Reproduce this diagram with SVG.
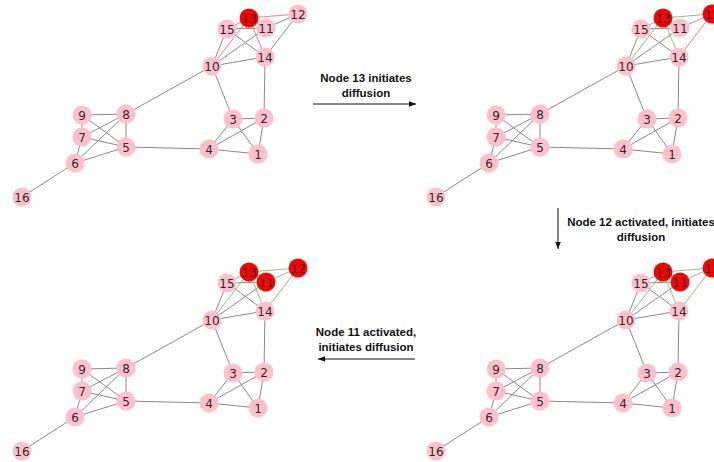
<svg xmlns="http://www.w3.org/2000/svg" xmlns:xlink="http://www.w3.org/1999/xlink" width="714" height="462" viewBox="0 0 714 462">
<defs>
<style>
.e{stroke:#8a8a8a;stroke-width:1;fill:none}
.r{stroke:#f08080;stroke-width:1;fill:none}
.g{stroke:#80c880;stroke-width:1;fill:none}
.n circle{fill:#ffc0cb}
.n.a circle{fill:#ff0000}
.n text{font-family:"DejaVu Sans",sans-serif;font-size:12px;fill:#2a2a2a;text-anchor:middle;dominant-baseline:central}
.lbl{font-family:"Liberation Sans",Arial,sans-serif;font-size:11.5px;font-weight:bold;fill:#111;text-anchor:middle}
.arr{stroke:#111;stroke-width:1;fill:none}
</style>
<marker id="ah" viewBox="0 0 10 10" refX="10" refY="5" markerWidth="7" markerHeight="7" orient="auto" markerUnits="userSpaceOnUse">
<path d="M0,1 L10,5 L0,9 z" fill="#111"/>
</marker>
</defs>
<rect width="714" height="462" fill="#ffffff"/>

<!-- Panel 1 -->
<g id="panel1">
<g id="p1-edges">
<line class="e" x1="212" y1="66" x2="227" y2="29"/>
<line class="e" x1="212" y1="66" x2="266" y2="28"/>
<line class="e" x1="212" y1="66" x2="265" y2="57"/>
<line class="e" x1="212" y1="66" x2="126" y2="114"/>
<line class="e" x1="212" y1="66" x2="233" y2="119"/>
<line class="e" x1="227" y1="29" x2="266" y2="28"/>
<line class="e" x1="227" y1="29" x2="265" y2="57"/>
<line class="e" x1="266" y1="28" x2="298" y2="14"/>
<line class="e" x1="298" y1="14" x2="265" y2="57"/>
<line class="e" x1="265" y1="57" x2="264" y2="118"/>
<line class="e" x1="233" y1="119" x2="264" y2="118"/>
<line class="e" x1="233" y1="119" x2="209" y2="149"/>
<line class="e" x1="233" y1="119" x2="258" y2="154"/>
<line class="e" x1="264" y1="118" x2="209" y2="149"/>
<line class="e" x1="264" y1="118" x2="258" y2="154"/>
<line class="e" x1="209" y1="149" x2="258" y2="154"/>
<line class="e" x1="209" y1="149" x2="126" y2="147"/>
<line class="e" x1="126" y1="114" x2="82" y2="115"/>
<line class="e" x1="126" y1="114" x2="82" y2="137"/>
<line class="e" x1="126" y1="114" x2="75" y2="163"/>
<line class="e" x1="126" y1="114" x2="126" y2="147"/>
<line class="e" x1="82" y1="115" x2="82" y2="137"/>
<line class="e" x1="82" y1="115" x2="126" y2="147"/>
<line class="e" x1="82" y1="137" x2="126" y2="147"/>
<line class="e" x1="82" y1="137" x2="75" y2="163"/>
<line class="e" x1="75" y1="163" x2="126" y2="147"/>
<line class="e" x1="75" y1="163" x2="22" y2="197"/>
<line class="r" x1="249" y1="18" x2="298" y2="14"/>
<line class="r" x1="249" y1="18" x2="227" y2="29"/>
<line class="r" x1="249" y1="18" x2="212" y2="66"/>
<line class="r" x1="249" y1="18" x2="265" y2="57"/>
<line class="r" x1="249" y1="18" x2="266" y2="28"/>
</g>
<g id="p1-n1" class="n"><circle cx="258" cy="154" r="9.5"/><text x="258" y="155">1</text></g>
<g id="p1-n2" class="n"><circle cx="264" cy="118" r="9.5"/><text x="264" y="119">2</text></g>
<g id="p1-n3" class="n"><circle cx="233" cy="119" r="9.5"/><text x="233" y="120">3</text></g>
<g id="p1-n4" class="n"><circle cx="209" cy="149" r="9.5"/><text x="209" y="150">4</text></g>
<g id="p1-n5" class="n"><circle cx="126" cy="147" r="9.5"/><text x="126" y="148">5</text></g>
<g id="p1-n6" class="n"><circle cx="75" cy="163" r="9.5"/><text x="75" y="164">6</text></g>
<g id="p1-n7" class="n"><circle cx="82" cy="137" r="9.5"/><text x="82" y="138">7</text></g>
<g id="p1-n8" class="n"><circle cx="126" cy="114" r="9.5"/><text x="126" y="115">8</text></g>
<g id="p1-n9" class="n"><circle cx="82" cy="115" r="9.5"/><text x="82" y="116">9</text></g>
<g id="p1-n10" class="n"><circle cx="212" cy="66" r="9.5"/><text x="212" y="67">10</text></g>
<g id="p1-n15" class="n"><circle cx="227" cy="29" r="9.5"/><text x="227" y="30">15</text></g>
<g id="p1-n11" class="n"><circle cx="266" cy="28" r="9.5"/><text x="266" y="29">11</text></g>
<g id="p1-n14" class="n"><circle cx="265" cy="57" r="9.5"/><text x="265" y="58">14</text></g>
<g id="p1-n12" class="n"><circle cx="298" cy="14" r="9.5"/><text x="298" y="15">12</text></g>
<g id="p1-n13" class="n a"><circle cx="249" cy="18" r="9.5"/><text x="249" y="19">13</text></g>
<g id="p1-n16" class="n"><circle cx="22" cy="197" r="9.5"/><text x="22" y="198">16</text></g>
</g>

<!-- Panel 2 -->
<g id="panel2" transform="translate(414,0)">
<g id="p2-edges">
<line class="e" x1="212" y1="66" x2="227" y2="29"/>
<line class="e" x1="212" y1="66" x2="266" y2="28"/>
<line class="e" x1="212" y1="66" x2="265" y2="57"/>
<line class="e" x1="212" y1="66" x2="126" y2="114"/>
<line class="e" x1="212" y1="66" x2="233" y2="119"/>
<line class="e" x1="227" y1="29" x2="266" y2="28"/>
<line class="e" x1="227" y1="29" x2="265" y2="57"/>
<line class="e" x1="265" y1="57" x2="264" y2="118"/>
<line class="e" x1="233" y1="119" x2="264" y2="118"/>
<line class="e" x1="233" y1="119" x2="209" y2="149"/>
<line class="e" x1="233" y1="119" x2="258" y2="154"/>
<line class="e" x1="264" y1="118" x2="209" y2="149"/>
<line class="e" x1="264" y1="118" x2="258" y2="154"/>
<line class="e" x1="209" y1="149" x2="258" y2="154"/>
<line class="e" x1="209" y1="149" x2="126" y2="147"/>
<line class="e" x1="126" y1="114" x2="82" y2="115"/>
<line class="e" x1="126" y1="114" x2="82" y2="137"/>
<line class="e" x1="126" y1="114" x2="75" y2="163"/>
<line class="e" x1="126" y1="114" x2="126" y2="147"/>
<line class="e" x1="82" y1="115" x2="82" y2="137"/>
<line class="e" x1="82" y1="115" x2="126" y2="147"/>
<line class="e" x1="82" y1="137" x2="126" y2="147"/>
<line class="e" x1="82" y1="137" x2="75" y2="163"/>
<line class="e" x1="75" y1="163" x2="126" y2="147"/>
<line class="e" x1="75" y1="163" x2="22" y2="197"/>
<line class="g" x1="249" y1="18" x2="298" y2="14"/>
<line class="g" x1="249" y1="18" x2="227" y2="29"/>
<line class="g" x1="249" y1="18" x2="212" y2="66"/>
<line class="g" x1="249" y1="18" x2="265" y2="57"/>
<line class="g" x1="249" y1="18" x2="266" y2="28"/>
<line class="r" x1="298" y1="14" x2="266" y2="28"/>
<line class="r" x1="298" y1="14" x2="265" y2="57"/>
</g>
<g id="p2-n1" class="n"><circle cx="258" cy="154" r="9.5"/><text x="258" y="155">1</text></g>
<g id="p2-n2" class="n"><circle cx="264" cy="118" r="9.5"/><text x="264" y="119">2</text></g>
<g id="p2-n3" class="n"><circle cx="233" cy="119" r="9.5"/><text x="233" y="120">3</text></g>
<g id="p2-n4" class="n"><circle cx="209" cy="149" r="9.5"/><text x="209" y="150">4</text></g>
<g id="p2-n5" class="n"><circle cx="126" cy="147" r="9.5"/><text x="126" y="148">5</text></g>
<g id="p2-n6" class="n"><circle cx="75" cy="163" r="9.5"/><text x="75" y="164">6</text></g>
<g id="p2-n7" class="n"><circle cx="82" cy="137" r="9.5"/><text x="82" y="138">7</text></g>
<g id="p2-n8" class="n"><circle cx="126" cy="114" r="9.5"/><text x="126" y="115">8</text></g>
<g id="p2-n9" class="n"><circle cx="82" cy="115" r="9.5"/><text x="82" y="116">9</text></g>
<g id="p2-n10" class="n"><circle cx="212" cy="66" r="9.5"/><text x="212" y="67">10</text></g>
<g id="p2-n15" class="n"><circle cx="227" cy="29" r="9.5"/><text x="227" y="30">15</text></g>
<g id="p2-n11" class="n"><circle cx="266" cy="28" r="9.5"/><text x="266" y="29">11</text></g>
<g id="p2-n14" class="n"><circle cx="265" cy="57" r="9.5"/><text x="265" y="58">14</text></g>
<g id="p2-n12" class="n a"><circle cx="298" cy="14" r="9.5"/><text x="298" y="15">12</text></g>
<g id="p2-n13" class="n a"><circle cx="249" cy="18" r="9.5"/><text x="249" y="19">13</text></g>
<g id="p2-n16" class="n"><circle cx="22" cy="197" r="9.5"/><text x="22" y="198">16</text></g>
</g>

<!-- Panel 3 -->
<g id="panel3" transform="translate(414,254)">
<g id="p3-edges">
<line class="e" x1="212" y1="66" x2="227" y2="29"/>
<line class="e" x1="212" y1="66" x2="266" y2="28"/>
<line class="e" x1="212" y1="66" x2="265" y2="57"/>
<line class="e" x1="212" y1="66" x2="126" y2="114"/>
<line class="e" x1="212" y1="66" x2="233" y2="119"/>
<line class="e" x1="227" y1="29" x2="266" y2="28"/>
<line class="e" x1="227" y1="29" x2="265" y2="57"/>
<line class="e" x1="265" y1="57" x2="264" y2="118"/>
<line class="e" x1="233" y1="119" x2="264" y2="118"/>
<line class="e" x1="233" y1="119" x2="209" y2="149"/>
<line class="e" x1="233" y1="119" x2="258" y2="154"/>
<line class="e" x1="264" y1="118" x2="209" y2="149"/>
<line class="e" x1="264" y1="118" x2="258" y2="154"/>
<line class="e" x1="209" y1="149" x2="258" y2="154"/>
<line class="e" x1="209" y1="149" x2="126" y2="147"/>
<line class="e" x1="126" y1="114" x2="82" y2="115"/>
<line class="e" x1="126" y1="114" x2="82" y2="137"/>
<line class="e" x1="126" y1="114" x2="75" y2="163"/>
<line class="e" x1="126" y1="114" x2="126" y2="147"/>
<line class="e" x1="82" y1="115" x2="82" y2="137"/>
<line class="e" x1="82" y1="115" x2="126" y2="147"/>
<line class="e" x1="82" y1="137" x2="126" y2="147"/>
<line class="e" x1="82" y1="137" x2="75" y2="163"/>
<line class="e" x1="75" y1="163" x2="126" y2="147"/>
<line class="e" x1="75" y1="163" x2="22" y2="197"/>
<line class="g" x1="249" y1="18" x2="298" y2="14"/>
<line class="g" x1="249" y1="18" x2="227" y2="29"/>
<line class="g" x1="249" y1="18" x2="212" y2="66"/>
<line class="g" x1="249" y1="18" x2="265" y2="57"/>
<line class="g" x1="249" y1="18" x2="266" y2="28"/>
<line class="g" x1="298" y1="14" x2="266" y2="28"/>
<line class="g" x1="298" y1="14" x2="265" y2="57"/>
</g>
<g id="p3-n1" class="n"><circle cx="258" cy="154" r="9.5"/><text x="258" y="155">1</text></g>
<g id="p3-n2" class="n"><circle cx="264" cy="118" r="9.5"/><text x="264" y="119">2</text></g>
<g id="p3-n3" class="n"><circle cx="233" cy="119" r="9.5"/><text x="233" y="120">3</text></g>
<g id="p3-n4" class="n"><circle cx="209" cy="149" r="9.5"/><text x="209" y="150">4</text></g>
<g id="p3-n5" class="n"><circle cx="126" cy="147" r="9.5"/><text x="126" y="148">5</text></g>
<g id="p3-n6" class="n"><circle cx="75" cy="163" r="9.5"/><text x="75" y="164">6</text></g>
<g id="p3-n7" class="n"><circle cx="82" cy="137" r="9.5"/><text x="82" y="138">7</text></g>
<g id="p3-n8" class="n"><circle cx="126" cy="114" r="9.5"/><text x="126" y="115">8</text></g>
<g id="p3-n9" class="n"><circle cx="82" cy="115" r="9.5"/><text x="82" y="116">9</text></g>
<g id="p3-n10" class="n"><circle cx="212" cy="66" r="9.5"/><text x="212" y="67">10</text></g>
<g id="p3-n15" class="n"><circle cx="227" cy="29" r="9.5"/><text x="227" y="30">15</text></g>
<g id="p3-n14" class="n"><circle cx="265" cy="57" r="9.5"/><text x="265" y="58">14</text></g>
<g id="p3-n12" class="n a"><circle cx="298" cy="14" r="9.5"/><text x="298" y="15">12</text></g>
<g id="p3-n13" class="n a"><circle cx="249" cy="18" r="9.5"/><text x="249" y="19">13</text></g>
<g id="p3-n11" class="n a"><circle cx="266" cy="28" r="9.5"/><text x="266" y="29">11</text></g>
<g id="p3-n16" class="n"><circle cx="22" cy="197" r="9.5"/><text x="22" y="198">16</text></g>
</g>

<!-- Panel 4 -->
<g id="panel4" transform="translate(0,254)">
<g id="p4-edges">
<line class="e" x1="212" y1="66" x2="227" y2="29"/>
<line class="e" x1="212" y1="66" x2="266" y2="28"/>
<line class="e" x1="212" y1="66" x2="265" y2="57"/>
<line class="e" x1="212" y1="66" x2="126" y2="114"/>
<line class="e" x1="212" y1="66" x2="233" y2="119"/>
<line class="e" x1="227" y1="29" x2="266" y2="28"/>
<line class="e" x1="227" y1="29" x2="265" y2="57"/>
<line class="e" x1="265" y1="57" x2="264" y2="118"/>
<line class="e" x1="233" y1="119" x2="264" y2="118"/>
<line class="e" x1="233" y1="119" x2="209" y2="149"/>
<line class="e" x1="233" y1="119" x2="258" y2="154"/>
<line class="e" x1="264" y1="118" x2="209" y2="149"/>
<line class="e" x1="264" y1="118" x2="258" y2="154"/>
<line class="e" x1="209" y1="149" x2="258" y2="154"/>
<line class="e" x1="209" y1="149" x2="126" y2="147"/>
<line class="e" x1="126" y1="114" x2="82" y2="115"/>
<line class="e" x1="126" y1="114" x2="82" y2="137"/>
<line class="e" x1="126" y1="114" x2="75" y2="163"/>
<line class="e" x1="126" y1="114" x2="126" y2="147"/>
<line class="e" x1="82" y1="115" x2="82" y2="137"/>
<line class="e" x1="82" y1="115" x2="126" y2="147"/>
<line class="e" x1="82" y1="137" x2="126" y2="147"/>
<line class="e" x1="82" y1="137" x2="75" y2="163"/>
<line class="e" x1="75" y1="163" x2="126" y2="147"/>
<line class="e" x1="75" y1="163" x2="22" y2="197"/>
<line class="g" x1="249" y1="18" x2="298" y2="14"/>
<line class="g" x1="249" y1="18" x2="227" y2="29"/>
<line class="g" x1="249" y1="18" x2="212" y2="66"/>
<line class="g" x1="249" y1="18" x2="265" y2="57"/>
<line class="g" x1="249" y1="18" x2="266" y2="28"/>
<line class="g" x1="298" y1="14" x2="266" y2="28"/>
<line class="g" x1="298" y1="14" x2="265" y2="57"/>
</g>
<g id="p4-n1" class="n"><circle cx="258" cy="154" r="9.5"/><text x="258" y="155">1</text></g>
<g id="p4-n2" class="n"><circle cx="264" cy="118" r="9.5"/><text x="264" y="119">2</text></g>
<g id="p4-n3" class="n"><circle cx="233" cy="119" r="9.5"/><text x="233" y="120">3</text></g>
<g id="p4-n4" class="n"><circle cx="209" cy="149" r="9.5"/><text x="209" y="150">4</text></g>
<g id="p4-n5" class="n"><circle cx="126" cy="147" r="9.5"/><text x="126" y="148">5</text></g>
<g id="p4-n6" class="n"><circle cx="75" cy="163" r="9.5"/><text x="75" y="164">6</text></g>
<g id="p4-n7" class="n"><circle cx="82" cy="137" r="9.5"/><text x="82" y="138">7</text></g>
<g id="p4-n8" class="n"><circle cx="126" cy="114" r="9.5"/><text x="126" y="115">8</text></g>
<g id="p4-n9" class="n"><circle cx="82" cy="115" r="9.5"/><text x="82" y="116">9</text></g>
<g id="p4-n10" class="n"><circle cx="212" cy="66" r="9.5"/><text x="212" y="67">10</text></g>
<g id="p4-n15" class="n"><circle cx="227" cy="29" r="9.5"/><text x="227" y="30">15</text></g>
<g id="p4-n14" class="n"><circle cx="265" cy="57" r="9.5"/><text x="265" y="58">14</text></g>
<g id="p4-n12" class="n a"><circle cx="298" cy="14" r="9.5"/><text x="298" y="15">12</text></g>
<g id="p4-n13" class="n a"><circle cx="249" cy="18" r="9.5"/><text x="249" y="19">13</text></g>
<g id="p4-n11" class="n a"><circle cx="266" cy="28" r="9.5"/><text x="266" y="29">11</text></g>
<g id="p4-n16" class="n"><circle cx="22" cy="197" r="9.5"/><text x="22" y="198">16</text></g>
</g>

<!-- Transitions -->
<g id="transitions">
<line class="arr" x1="313" y1="104" x2="416" y2="104" marker-end="url(#ah)"/>
<text class="lbl" x="366" y="82">Node 13 initiates</text>
<text class="lbl" x="366" y="97">diffusion</text>

<line class="arr" x1="558" y1="208" x2="558" y2="249" marker-end="url(#ah)"/>
<text class="lbl" x="641" y="226">Node 12 activated, initiates</text>
<text class="lbl" x="641" y="241">diffusion</text>

<line class="arr" x1="415" y1="359" x2="318" y2="359" marker-end="url(#ah)"/>
<text class="lbl" x="366" y="336">Node 11 activated,</text>
<text class="lbl" x="366" y="351">initiates diffusion</text>
</g>
</svg>
